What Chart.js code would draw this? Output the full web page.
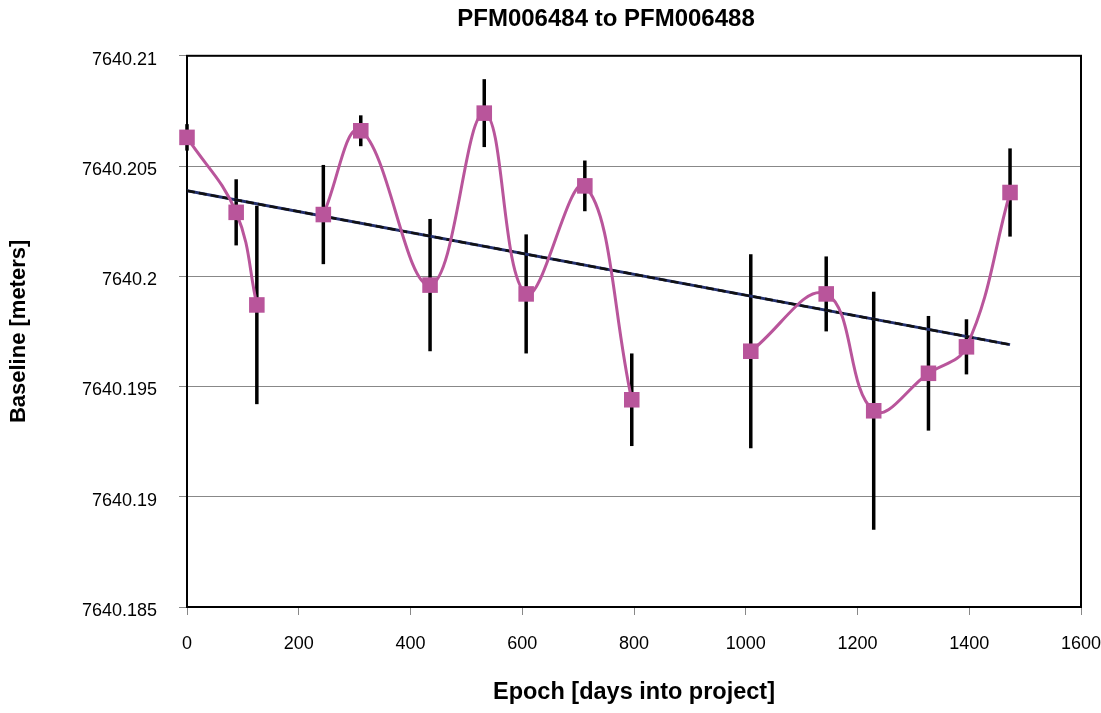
<!DOCTYPE html>
<html>
<head>
<meta charset="utf-8">
<title>PFM006484 to PFM006488</title>
<script src="https://cdn.jsdelivr.net/npm/chart.js@4/dist/chart.umd.min.js"></script>
<style>
  html, body { margin: 0; padding: 0; background: #fff; }
  #wrap { width: 1101px; height: 713px; }
</style>
</head>
<body>
<div id="wrap"><canvas id="baselineChart" width="1101" height="713"></canvas></div>
<script>
// epoch (days into project) of each solution
const epochs = [0, 88, 125, 244, 311, 435, 532, 607, 712, 796, 1009, 1144, 1229, 1327, 1395, 1473];
// baseline length in meters
const baselines = [
  7640.2063, 7640.2029, 7640.1987, 7640.2028, 7640.2066, 7640.1996, 7640.2074, 7640.1992,
  7640.2041, 7640.1944, 7640.1966, 7640.1992, 7640.1939, 7640.1956, 7640.1968, 7640.2038
];
// one-sigma uncertainty for each baseline
const sigmas = [
  0.0006, 0.0015, 0.0045, 0.00225, 0.0007, 0.0030, 0.00154, 0.0027,
  0.00115, 0.0021, 0.0044, 0.0017, 0.0054, 0.0026, 0.00125, 0.0020
];
// the smoothed curve is not drawn across these gaps (index of the point before the gap)
const curveBreaks = [2, 9];
// linear trend end points
const trendDays = [0, 1473];
const trendValues = [7640.20388, 7640.19690];

const xTicks = [0, 200, 400, 600, 800, 1000, 1200, 1400, 1600];
const yTicks = [7640.185, 7640.19, 7640.195, 7640.2, 7640.205, 7640.21];
const yTickLabels = ['7640.185', '7640.19', '7640.195', '7640.2', '7640.205', '7640.21'];

const FONT = "'Liberation Sans', Arial, sans-serif";

// baseline points, with a null entry wherever the curve is broken
const curveData = [];
epochs.forEach((d, i) => {
  curveData.push({ x: d, y: baselines[i] });
  if (curveBreaks.includes(i)) curveData.push({ x: (d + epochs[i + 1]) / 2, y: null });
});

// vertical error bars plus the black frame round the plot area
const errorBarPlugin = {
  id: 'errorBars',
  afterLayout(chart) {
    // title sits a little right of the canvas centre
    if (chart.titleBlock) chart.titleBlock.left = 131;
  },
  beforeDatasetsDraw(chart) {
    const { ctx, chartArea, scales } = chart;
    const x = scales.x, y = scales.y;
    ctx.save();
    ctx.strokeStyle = '#000';
    ctx.lineWidth = 2;
    ctx.strokeRect(chartArea.left, chartArea.top, chartArea.right - chartArea.left, chartArea.bottom - chartArea.top);
    ctx.lineWidth = 3.5;
    ctx.lineCap = 'butt';
    epochs.forEach((d, i) => {
      const px = x.getPixelForValue(d);
      ctx.beginPath();
      ctx.moveTo(px, y.getPixelForValue(baselines[i] + sigmas[i]));
      ctx.lineTo(px, y.getPixelForValue(baselines[i] - sigmas[i]));
      ctx.stroke();
    });
    ctx.restore();
  }
};

const ctx = document.getElementById('baselineChart').getContext('2d');
new Chart(ctx, {
  type: 'line',
  data: {
    datasets: [
      {
        label: 'Baseline',
        data: curveData,
        borderColor: '#b9559b',
        backgroundColor: '#b9559b',
        borderWidth: 3,
        pointStyle: 'rect',
        pointRadius: 11,
        pointBorderWidth: 0,
        tension: 0.4,
        spanGaps: false,
        clip: false
      },
      {
        label: 'Trend dash',
        data: trendDays.map((d, i) => ({ x: d, y: trendValues[i] })),
        borderColor: '#111',
        borderWidth: 2.5,
        borderDash: [8, 4],
        pointRadius: 0,
        tension: 0
      },
      {
        label: 'Trend',
        data: trendDays.map((d, i) => ({ x: d, y: trendValues[i] })),
        borderColor: '#23306e',
        borderWidth: 3,
        pointRadius: 0,
        tension: 0
      }
    ]
  },
  options: {
    responsive: false,
    animation: false,
    layout: { padding: { left: 0, right: 20, top: 0, bottom: 0 } },
    plugins: {
      legend: { display: false },
      tooltip: { enabled: false },
      title: {
        display: true,
        text: 'PFM006484 to PFM006488',
        color: '#000',
        font: { family: FONT, size: 24, weight: 'bold' },
        padding: { top: 5, bottom: 22 }
      }
    },
    scales: {
      x: {
        type: 'linear',
        min: 0,
        max: 1600,
        afterBuildTicks: scale => { scale.ticks = xTicks.map(v => ({ value: v })); },
        afterFit: scale => {
          scale.height = 106;
          scale.paddingLeft = 0;
          scale.paddingRight = 0;
        },
        grid: { drawOnChartArea: false, drawTicks: true, tickLength: 8, color: '#888' },
        border: { display: false },
        ticks: {
          color: '#000',
          padding: 18,
          font: { family: FONT, size: 18 },
          callback: (v, i) => String(xTicks[i])
        },
        title: {
          display: true,
          text: 'Epoch [days into project]',
          color: '#000',
          font: { family: FONT, size: 23.5, weight: 'bold' },
          padding: { top: 0, bottom: 6 }
        }
      },
      y: {
        min: 7640.185,
        max: 7640.21,
        afterBuildTicks: scale => { scale.ticks = yTicks.map(v => ({ value: v })); },
        afterFit: scale => { scale.width = 187; },
        grid: { color: '#888', lineWidth: 1, tickLength: 8 },
        border: { display: false },
        ticks: {
          color: '#000',
          padding: 22,
          labelOffset: 4,
          font: { family: FONT, size: 18 },
          callback: (v, i) => yTickLabels[i]
        },
        title: {
          display: true,
          text: 'Baseline [meters]',
          color: '#000',
          font: { family: FONT, size: 22, weight: 'bold' },
          padding: { top: 6, bottom: 0 }
        }
      }
    }
  },
  plugins: [errorBarPlugin]
});
</script>
</body>
</html>
